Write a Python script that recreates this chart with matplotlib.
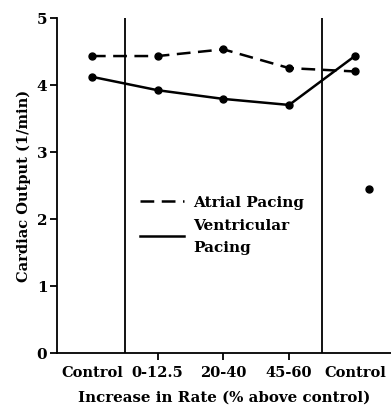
import numpy as np
import matplotlib.pyplot as plt

categories = ['Control', '0-12.5', '20-40', '45-60', 'Control']
atrial = [4.43, 4.43, 4.53, 4.25, 4.20]
ventricular = [4.12, 3.92, 3.79, 3.70, 4.43]
extra_x = [4.21]
extra_y = [2.45]

plt.rcParams['font.family'] = 'DejaVu Serif'
plt.rcParams['font.weight'] = 'bold'

fig = plt.figure(figsize=(3.91, 4.10), dpi=100)
ax = fig.add_axes([0.146, 0.137, 0.854, 0.817])

x = np.arange(len(categories))
ax.plot(x, atrial, '--', color='black', lw=1.8, dashes=(5.5, 3), marker='o', ms=5, label='Atrial Pacing')
ax.plot(x, ventricular, '-', color='black', lw=1.8, marker='o', ms=5, label='Ventricular\nPacing')
ax.plot(extra_x, extra_y, 'o', color='black', ms=5)

ax.vlines([0.5, 3.5], 0, 5.03, color='black', lw=1.3)

ax.set_xlim(-0.53, 4.55)
ax.set_ylim(0, 5)
ax.spines['top'].set_visible(False)
ax.spines['right'].set_visible(False)
ax.spines['left'].set_linewidth(1.3)
ax.spines['bottom'].set_linewidth(1.3)
ax.set_yticks([0, 1, 2, 3, 4, 5])
ax.set_xticks([1, 2, 3])
ax.set_xticklabels([])
ax.tick_params(axis='both', width=1.3, length=5, labelsize=11)
ax.tick_params(axis='y', pad=2)
for xi, lab in zip(x, categories):
    ax.text(xi, -0.28, lab, ha='center', va='center', fontsize=10.5, fontweight='bold')

ax.set_xlabel('Increase in Rate (% above control)', fontsize=10.8, fontweight='bold', labelpad=18)
ax.set_ylabel('Cardiac Output (1/min)', fontsize=10.5, fontweight='bold', labelpad=4)

leg = ax.legend(loc='upper left', bbox_to_anchor=(0.248, 0.47), frameon=False,
                borderpad=0, borderaxespad=0,
                fontsize=11, handlelength=2.9, handletextpad=0.6, labelspacing=0.55)
for h in leg.legend_handles:
    h.set_marker('')
leg.get_texts()[1].set_linespacing(1.75)

fig.savefig('out.png', dpi=100)
